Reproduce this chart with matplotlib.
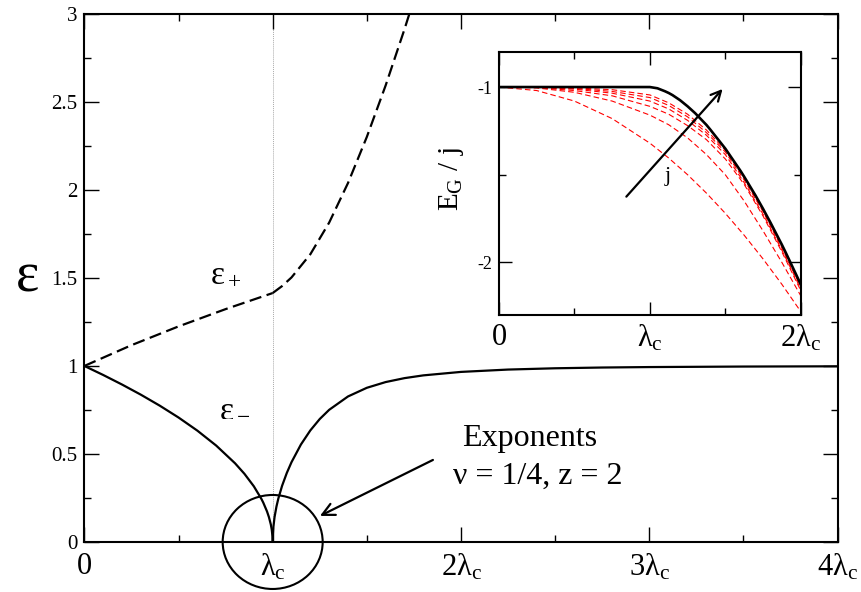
import matplotlib
matplotlib.use('Agg')
import matplotlib.pyplot as plt
from matplotlib.patches import Ellipse
from matplotlib.ticker import MultipleLocator, FixedLocator

plt.rcParams['font.family'] = ['Liberation Serif', 'DejaVu Serif']
plt.rcParams['mathtext.fontset'] = 'custom'
plt.rcParams['mathtext.rm'] = 'Liberation Serif'
plt.rcParams['mathtext.it'] = 'Liberation Serif'
plt.rcParams['mathtext.bf'] = 'Liberation Serif'
plt.rcParams['axes.unicode_minus'] = False

# excitation gaps, lambda in units of lambda_c
lam_plus_lo = [0.0, 0.25, 0.5, 0.75, 1.0]
eps_plus_lo = [1.0, 1.118, 1.2247, 1.3229, 1.4142]
lam_plus_hi = [1.0, 1.05, 1.1, 1.2, 1.3, 1.4, 1.5, 1.6, 1.7, 1.75]
eps_plus_hi = [1.4142, 1.4538, 1.5029, 1.6346, 1.8145, 2.0392, 2.3012, 2.5939, 2.9130, 3.0817]

lam_minus_lo = [0.0, 0.1, 0.2, 0.3, 0.4, 0.5, 0.6, 0.7, 0.8, 0.85, 0.9, 0.94,
                0.95, 0.97, 0.98, 0.99, 0.995, 0.999, 1.0]
eps_minus_lo = [1.0, 0.9487, 0.8944, 0.8367, 0.7746, 0.7071, 0.6325, 0.5477,
                0.4472, 0.3873, 0.3162, 0.2449, 0.2236, 0.1732, 0.1414, 0.1,
                0.0707, 0.0316, 0.0]
lam_minus_hi = [1.0, 1.001, 1.003, 1.01, 1.02, 1.03, 1.05, 1.075, 1.1, 1.15,
                1.2, 1.25, 1.3, 1.4, 1.5, 1.6, 1.7, 1.8, 2.0, 2.25, 2.5, 2.75,
                3.0, 3.5, 4.0]
eps_minus_hi = [0.0, 0.0447, 0.0776, 0.1418, 0.2009, 0.2465, 0.3193, 0.3921,
                0.4533, 0.5538, 0.6339, 0.6986, 0.7508, 0.8267, 0.8759, 0.9085,
                0.9308, 0.9465, 0.9662, 0.9795, 0.9868, 0.9911, 0.9937, 0.9966,
                0.9980]

# ground-state energy per j (inset)
lam_gs = [0.0, 1.0, 1.05, 1.1, 1.125, 1.15, 1.2, 1.25, 1.3, 1.375, 1.4, 1.5,
          1.6, 1.625, 1.7, 1.75, 1.8, 1.875, 1.9, 2.0]
eg_limit = [-1.0, -1.0, -1.007, -1.024, -1.034, -1.046, -1.075, -1.11, -1.149,
            -1.216, -1.242, -1.351, -1.477, -1.511, -1.618, -1.694, -1.774,
            -1.899, -1.943, -2.125]

lam_fin = [0.0, 0.25, 0.5, 0.75, 1.0, 1.125, 1.25, 1.375, 1.5, 1.625, 1.75, 1.875, 2.0]
eg_finite = [
    [-1.0, -1.02, -1.08, -1.18, -1.32, -1.405, -1.50, -1.605, -1.72, -1.845, -1.98, -2.125, -2.28],
    [-1.0, -1.005, -1.03, -1.08, -1.16, -1.215, -1.29, -1.385, -1.50, -1.65, -1.82, -2.0, -2.19],
    [-1.0, -1.003, -1.02, -1.05, -1.11, -1.155, -1.22, -1.30, -1.41, -1.555, -1.735, -1.94, -2.16],
    [-1.0, -1.002, -1.012, -1.035, -1.08, -1.125, -1.19, -1.275, -1.385, -1.545, -1.725, -1.93, -2.15],
    [-1.0, -1.001, -1.008, -1.025, -1.06, -1.105, -1.17, -1.26, -1.37, -1.53, -1.71, -1.92, -2.14],
    [-1.0, -1.0, -1.005, -1.015, -1.045, -1.09, -1.155, -1.245, -1.36, -1.52, -1.705, -1.91, -2.135],
]

x_ticks = [0, 1, 2, 3, 4]
x_labels = ['0', r'$\lambda_c$', r'$2\lambda_c$', r'$3\lambda_c$', r'$4\lambda_c$']
y_ticks = [0, 0.5, 1, 1.5, 2, 2.5, 3]
y_labels = ['0', '0.5', '1', '1.5', '2', '2.5', '3']

fig = plt.figure(figsize=(8.61, 5.92), dpi=100)
ax = fig.add_axes([0.098, 0.0845, 0.8748, 0.892])

ax.axvline(1.0, color='#aaaaaa', lw=0.7, ls=(0, (1, 1)), zorder=1)
ax.plot(lam_plus_lo, eps_plus_lo, color='black', lw=1.6, dashes=(5.5, 2.5))
ax.plot(lam_plus_hi, eps_plus_hi, color='black', lw=1.6, dashes=(5.5, 2.5))
ax.plot(lam_minus_lo, eps_minus_lo, color='black', lw=1.6)
ax.plot(lam_minus_hi, eps_minus_hi, color='black', lw=1.6)

ax.set_xlim(0, 4)
ax.set_ylim(0, 3)
ax.set_xticks(x_ticks)
ax.set_xticklabels(x_labels, fontsize=22)
ax.set_yticks(y_ticks)
ax.set_yticklabels(y_labels, fontsize=15)
ax.xaxis.set_minor_locator(MultipleLocator(0.5))
ax.yaxis.set_minor_locator(MultipleLocator(0.25))
ax.tick_params(which='both', direction='in', top=True, right=True, width=1.0)
ax.tick_params(which='major', length=10.8)
ax.tick_params(which='minor', length=5)
ax.tick_params(axis='x', pad=7)
ax.tick_params(axis='y', pad=5)
for s in ax.spines.values():
    s.set_linewidth(1.5)

ax.set_ylabel('ε', rotation=0, fontsize=40, va='center', ha='center')
ax.yaxis.set_label_coords(-0.076, 0.5)

ax.text(0.75, 1.52, r'$ε_+$', fontsize=24, ha='center', va='center')
ax.text(0.80, 0.76, r'$ε_-$', fontsize=24, ha='center', va='center')

ax.add_patch(Ellipse((1.0, 0.0), 0.531, 0.534, fill=False, lw=1.5,
                     color='black', clip_on=False))
ax.annotate('', xy=(1.251, 0.148), xytext=(1.851, 0.466),
            arrowprops=dict(arrowstyle='->', lw=1.6, color='black',
                            mutation_scale=22, shrinkA=0, shrinkB=0))
ax.text(2.366, 0.545, 'Exponents', fontsize=23, ha='center', va='baseline')
ax.text(2.406, 0.33, 'ν = 1/4, z = 2', fontsize=23, ha='center', va='baseline')

# inset: ground-state energy
ins = fig.add_axes([0.5796, 0.4679, 0.3504, 0.4443])
for eg in eg_finite:
    ins.plot(lam_fin, eg, color='red', lw=0.8, dashes=(5.0, 2.8))
ins.plot(lam_gs, eg_limit, color='black', lw=1.9)
ins.set_xlim(0, 2)
ins.set_ylim(-2.3, -0.8)
ins.xaxis.set_major_locator(FixedLocator([0, 1, 2]))
ins.set_xticklabels(['0', r'$\lambda_c$', r'$2\lambda_c$'], fontsize=22)
ins.xaxis.set_minor_locator(FixedLocator([0.5, 1.5]))
ins.yaxis.set_major_locator(FixedLocator([-1, -2]))
ins.set_yticklabels(['-1', '-2'], fontsize=13)
ins.yaxis.set_minor_locator(FixedLocator([-1.5]))
ins.tick_params(which='both', direction='in', top=True, right=True, width=1.0)
ins.tick_params(which='major', length=9.4)
ins.tick_params(which='minor', length=5)
ins.tick_params(axis='x', pad=6)
ins.tick_params(axis='y', pad=5)
for s in ins.spines.values():
    s.set_linewidth(1.5)
ins.set_ylabel(r'$E_G\ /\ j$', fontsize=21)
ins.yaxis.set_label_coords(-0.11, 0.517)

ins.annotate('', xy=(1.482, -1.011), xytext=(0.844, -1.625),
             arrowprops=dict(arrowstyle='->', lw=1.6, color='black',
                             mutation_scale=18, shrinkA=0, shrinkB=0))
ins.text(1.116, -1.51, 'j', fontsize=16, ha='center', va='center')

fig.savefig('out.png', dpi=100)
